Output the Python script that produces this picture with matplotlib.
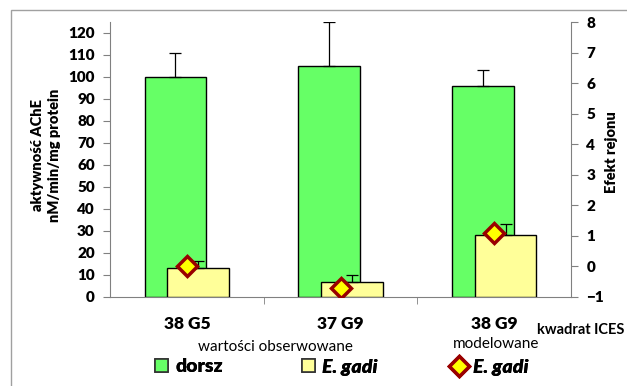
import numpy as np
import matplotlib
matplotlib.use("Agg")
import matplotlib.pyplot as plt
import matplotlib.patches as patches
from matplotlib.lines import Line2D

plt.rcParams['font.family'] = ['Lato', 'DejaVu Sans']

# data
sites = ["38 G5", "37 G9", "38 G9"]
cod = [100, 105, 96]
cod_err = [11, 20, 7]
parasite = [13, 7, 28]
parasite_err = [3.5, 3, 5]
region_effect = [0.0, -0.7, 1.1]

green = "#66ff66"
yellow = "#ffff99"
spine_col = "#808080"
bold = "heavy"

fig = plt.figure(figsize=(6.27, 3.86), dpi=100, facecolor="white")

# thin frame around the chart area
frame = patches.Rectangle((11/627, -0.1), 1.2, 1 - 10/386 + 0.1,
                          transform=fig.transFigure, fill=False,
                          edgecolor="#a0a0a0", lw=1.0)
fig.patches.append(frame)

ax = fig.add_axes([110/627, 1 - 297/386, 461/627, 275/386])
x = np.arange(len(sites))
w = 0.40
off = 0.074

ax.bar(x - off, cod, w, color=green, edgecolor="black", lw=1.0, zorder=2)
ax.errorbar(x - off, cod, yerr=[np.zeros(3), cod_err], fmt="none",
            ecolor="black", elinewidth=0.9, capsize=4, capthick=0.9, zorder=3)
ax.bar(x + off, parasite, w, color=yellow, edgecolor="black", lw=1.0, zorder=4)
ax.errorbar(x + off, parasite, yerr=[np.zeros(3), parasite_err], fmt="none",
            ecolor="black", elinewidth=0.9, capsize=4, capthick=0.9, zorder=5)

ax.set_xlim(-0.5, 2.5)
ax.set_ylim(0, 125)
ax.set_yticks(np.arange(0, 121, 10))
ax.set_xticks(x)
ax.set_xticklabels(sites, fontsize=12.5, fontweight=bold)
ax.set_xticks([0.5, 1.5], minor=True)
ax.tick_params(axis="x", which="major", length=0, pad=14)
ax.tick_params(axis="x", which="minor", length=5, color=spine_col, direction="out")
ax.tick_params(axis="y", length=5, color=spine_col, direction="out",
               labelsize=11, pad=6)
for lab in ax.get_yticklabels():
    lab.set_fontweight(bold)
for s in ["top", "right"]:
    ax.spines[s].set_visible(False)
for s in ["left", "bottom"]:
    ax.spines[s].set_color(spine_col)

# secondary axis: region effect
ax2 = ax.twinx()
ax2.plot(x, region_effect, linestyle="none", marker="D", markersize=10,
         markerfacecolor="#ffff00", markeredgecolor="#990000",
         markeredgewidth=2.5, zorder=6)
ax2.set_ylim(-1, 8)
ax2.set_yticks(np.arange(-1, 9, 1))
ax2.tick_params(axis="y", length=5, color=spine_col, direction="out",
                labelsize=11, pad=6)
for lab in ax2.get_yticklabels():
    lab.set_fontweight(bold)
for s in ["top", "left", "bottom"]:
    ax2.spines[s].set_visible(False)
ax2.spines["right"].set_color(spine_col)

# axis titles
fig.text(46/627, 1 - 155/386, "aktywność AChE\nnM/min/mg protein",
         rotation=90, ha="center", va="center", fontsize=10.5,
         fontweight=bold, multialignment="center", linespacing=1.3)
fig.text(611/627, 1 - 152/386, "Efekt rejonu", rotation=90,
         ha="center", va="center", fontsize=10.5, fontweight=bold)
fig.text(275/627, 1 - 347/386, "wartości obserwowane", ha="center",
         va="center", fontsize=11)
fig.text(496/627, 1 - 344/386, "modelowane", ha="center", va="center",
         fontsize=11)
fig.text(624/627, 1 - 330/386, "kwadrat ICES", ha="right", va="center",
         fontsize=10.5, fontweight="bold")

# legend, one entry per group so each can sit at its own position
entries = [
    (patches.Patch(facecolor=green, edgecolor="#333333", lw=1.2), "dorsz",
     "normal", 155),
    (patches.Patch(facecolor=yellow, edgecolor="#333333", lw=1.2), "E. gadi",
     "italic", 302),
    (Line2D([], [], linestyle="none", marker="D", markersize=10,
            markerfacecolor="#ffff00", markeredgecolor="#990000",
            markeredgewidth=2.5), "E. gadi", "italic", 453),
]
for handle, label, style, xpos in entries:
    leg = fig.legend(handles=[handle], labels=[label], loc="center left",
                     frameon=False, bbox_to_anchor=(xpos/627, 1 - 367/386),
                     borderpad=0, borderaxespad=0, handlelength=0.65,
                     handleheight=0.65, handletextpad=0.4,
                     prop={"size": 14, "weight": bold, "style": style})
    fig.add_artist(leg)

plt.savefig("out.png", dpi=100)
